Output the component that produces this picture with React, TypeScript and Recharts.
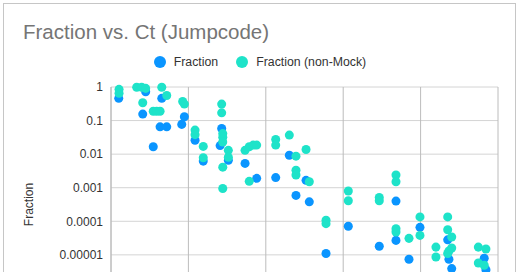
import { CartesianGrid, Legend, Scatter, ScatterChart, XAxis, YAxis } from 'recharts'

// Ct values and fractions
const ctFraction = [
  15.5, 17.24, 18.28, 17.05, 18.17, 18.6, 17.73, 19.74, 19.57, 20.43, 20.96,
  22.15, 22.05, 22.58, 23.66, 24.41, 25.64, 26.52, 26.95, 27.6, 27.81, 28.89,
  30.33, 32.33, 33.41, 33.41, 34.25, 34.96, 36.75, 36.83, 37.01, 39.11, 39.22
]
const fraction = [
  0.46, 0.72, 0.46, 0.156, 0.065, 0.065, 0.0166, 0.13, 0.077, 0.026, 0.0062,
  0.058, 0.018, 0.0066, 0.0053, 0.0019, 0.002, 0.0093, 0.00059, 0.00166,
  0.00038, 0.000011, 0.000071, 0.000018, 0.0004, 0.000027, 0.0000074,
  0.000066, 0.000028, 0.0000074, 0.0000039, 0.0000079, 0.0000036
]

const ctNonMock = [
  15.52, 15.52, 16.66, 16.98, 17.24, 18.28, 18.6, 17.05, 17.73, 17.95, 18.17,
  19.63, 19.74, 20.43, 20.43, 20.96, 20.96, 22.15, 22.15, 22.22, 22.22, 22.22,
  22.22, 22.22, 22.58, 22.58, 23.66, 23.93, 24.19, 24.41, 23.93, 25.64, 25.64,
  26.52, 26.95, 26.95, 26.95, 27.6, 27.81, 28.89, 28.89, 30.33, 30.33, 32.33,
  32.33, 33.41, 33.41, 33.41, 33.41, 34.25, 34.96, 34.96, 35.99, 35.99, 36.75,
  36.75, 37.01, 37.01, 36.83, 36.75, 38.73, 39.22, 38.73, 39.11
]
const fractionNonMock = [
  0.85, 0.65, 0.98, 0.98, 0.91, 0.98, 0.56, 0.34, 0.19, 0.19, 0.19, 0.37, 0.31,
  0.052, 0.038, 0.017, 0.0078, 0.31, 0.17, 0.041, 0.032, 0.023, 0.0041,
  0.00095, 0.013, 0.0081, 0.013, 0.0166, 0.0186, 0.0186, 0.00155, 0.0275,
  0.0186, 0.037, 0.0087, 0.0033, 0.0024, 0.0138, 0.0015, 0.000107, 0.000085,
  0.0008, 0.00041, 0.00051, 0.00041, 0.0024, 0.0015, 0.00006, 0.000048,
  0.000031, 0.000135, 0.000038, 0.000017, 0.0000086, 0.000135, 0.000056,
  0.000034, 0.000016, 0.000013, 0.000011, 0.000017, 0.000015, 0.0000057,
  0.0000049
]

const xTicks = [15, 20, 25, 30, 35, 40]
const yTicks = [1, 0.1, 0.01, 0.001, 0.0001, 0.00001, 0.000001, 0.0000001]

const BLUE = '#0a95ff'
const TEAL = '#1ee3c9'
const FONT = '"Liberation Sans", Arial, Helvetica, sans-serif'

const fractionData = ctFraction.map((ct, i) => ({ ct, value: fraction[i] }))
const nonMockData = ctNonMock.map((ct, i) => ({ ct, value: fractionNonMock[i] }))

const formatTick = (v: number) =>
  v >= 1 ? '1' : v.toFixed(Math.round(-Math.log10(v)))

const LegendContent = ({ payload }: any) => (
  <div style={{ display: 'flex', justifyContent: 'center', fontSize: 12.3, lineHeight: '16px', color: '#333' }}>
    {(payload || []).map((item: any, i: number) => (
      <div key={item.value} style={{ display: 'flex', alignItems: 'center', marginLeft: i ? 18 : 0 }}>
        <svg width={12} height={12} style={{ marginRight: 8 }}>
          <circle cx={6} cy={6} r={6} fill={item.color} />
        </svg>
        <span>{item.value}</span>
      </div>
    ))}
  </div>
)

const YLabel = (props: any) => {
  const { viewBox } = props
  const cy = viewBox.y + viewBox.height / 2
  return (
    <text
      x={33}
      y={cy}
      transform={`rotate(-90, 33, ${cy})`}
      textAnchor="middle"
      fill="#333"
      fontSize={12}
    >
      Fraction
    </text>
  )
}

export default function App() {
  return (
    <div
      style={{
        position: 'fixed',
        top: 0,
        left: 0,
        width: 520,
        height: 272,
        overflow: 'hidden',
        background: '#fff',
        fontFamily: FONT
      }}
    >
      <div
        style={{
          position: 'absolute',
          left: 3,
          top: 3,
          width: 511,
          height: 320,
          border: '1px solid #c6c6c6'
        }}
      />
      <div
        style={{
          position: 'absolute',
          left: 23,
          top: 20,
          fontSize: 20.5,
          lineHeight: '24px',
          color: '#757575'
        }}
      >
        Fraction vs. Ct (Jumpcode)
      </div>
      <ScatterChart
        width={520}
        height={380}
        margin={{ top: 87, right: 22, left: 0, bottom: 28 }}
        style={{ position: 'absolute', top: 0, left: 0 }}
      >
        <CartesianGrid horizontal vertical={false} stroke="#d4d4d4" />
        <CartesianGrid horizontal={false} vertical stroke="#bcbcbc" />
        <XAxis
          type="number"
          dataKey="ct"
          domain={[15, 40]}
          ticks={xTicks}
          height={30}
          axisLine={false}
          tickLine={false}
          tick={{ fontSize: 12, fill: '#333' }}
        />
        <YAxis
          type="number"
          dataKey="value"
          scale="log"
          domain={[0.0000001, 1]}
          ticks={yTicks}
          tickFormatter={formatTick}
          width={111}
          axisLine={{ stroke: '#bcbcbc' }}
          tickLine={false}
          tick={{ fontSize: 12, fill: '#333' }}
          label={YLabel}
        />
        <Legend
          verticalAlign="middle"
          align="center"
          layout="horizontal"
          content={LegendContent}
          wrapperStyle={{ top: 54, left: 0, width: 520 }}
        />
        <Scatter name="Fraction" data={fractionData} fill={BLUE} isAnimationActive={false} />
        <Scatter name="Fraction (non-Mock)" data={nonMockData} fill={TEAL} isAnimationActive={false} />
      </ScatterChart>
    </div>
  )
}
